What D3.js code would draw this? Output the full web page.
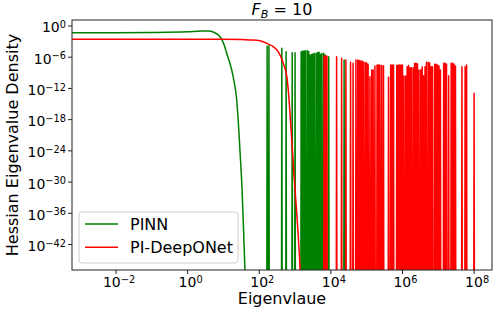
<!DOCTYPE html>
<html lang="en">
<head>
<meta charset="utf-8">
<title>Hessian eigenvalue density, F_B = 10</title>
<script src="https://d3js.org/d3.v7.min.js"></script>
<style>
    body { margin: 0; background: #fff; }
    text { font-family: "DejaVu Sans", sans-serif; fill: #000; }
</style>
</head>
<body>
<div id="vis"></div>
<script>
    // Tick exponents (log10)
    var x_tick_exps = [-2, 0, 2, 4, 6, 8];
    var y_tick_exps = [0, -6, -12, -18, -24, -30, -36, -42];

    // Series names and colours
    var series_names = ["PINN", "PI-DeepONet"];
    var series_colours = ["green", "red"];

    // Smooth part of each density curve: [log10 eigenvalue, log10 density]
    var pinn_curve = [
        [-3.3, -1.30], [-2.0, -1.29], [-1.0, -1.24], [0.0, -1.10], [0.4, -0.98], [0.6, -0.97],
        [0.7, -1.10], [0.77, -1.35], [0.86, -1.73], [0.95, -2.56], [1.02, -3.65], [1.09, -5.25],
        [1.16, -6.73], [1.23, -8.46], [1.28, -10.06], [1.37, -14.23], [1.42, -19.04], [1.46, -23.85],
        [1.52, -31.54], [1.56, -38.85], [1.60, -46.92], [1.64, -55]
    ];
    var deeponet_curve = [
        [-3.3, -2.56], [1.0, -2.57], [1.5, -2.60], [1.74, -2.68], [2.02, -2.83], [2.21, -3.33],
        [2.39, -3.98], [2.53, -4.94], [2.67, -7.17], [2.77, -9.75], [2.81, -12.31], [2.89, -20.0],
        [2.97, -28.65], [3.06, -37.31], [3.14, -46.92], [3.18, -55]
    ];

    // Narrow peaks of each density: [log10 eigenvalue, log10 peak density]
    var pinn_spikes = [
        [2.22, -3.9], [2.27, -3.65], [2.63, -4.29], [2.75, -4.94], [2.92, -5.13], [3.00, -5.13],
        [3.17, -4.94], [3.21, -4.87], [3.25, -4.81], [3.29, -4.77], [3.34, -4.75], [3.38, -4.90],
        [3.42, -5.58], [3.46, -5.48], [3.50, -5.38], [3.54, -5.29], [3.59, -5.25], [3.63, -5.10],
        [3.67, -5.06], [3.71, -5.44], [3.75, -5.29], [3.80, -5.25], [3.84, -5.58],
        [3.94, -5.90], [4.37, -6.54]
    ];
    var deeponet_spikes = [
        [3.81, -5.77], [3.85, -5.77], [3.89, -5.77], [4.16, -5.90], [4.30, -6.21], [4.42, -6.54],
        [4.55, -6.98], [4.62, -7.17],
        [4.70, -6.54], [4.75, -6.54], [4.79, -6.63], [4.83, -6.73], [4.87, -6.73], [4.91, -6.92],
        [4.96, -7.02], [5.00, -7.12], [5.04, -7.37], [5.09, -9.75], [5.14, -8.46], [5.18, -8.46],
        [5.23, -7.69], [5.29, -7.50], [5.33, -7.50], [5.37, -7.50], [5.42, -7.60], [5.47, -7.63],
        [5.61, -9.87], [5.67, -7.50], [5.71, -7.50], [5.75, -7.50],
        [5.84, -7.60], [5.88, -7.50], [5.92, -7.50], [5.96, -7.50], [6.00, -7.50], [6.04, -9.62],
        [6.09, -9.62], [6.13, -7.83], [6.17, -7.60], [6.21, -8.02], [6.25, -8.02], [6.30, -8.02],
        [6.34, -7.17], [6.38, -7.17], [6.42, -7.31], [6.46, -8.46], [6.51, -8.46], [6.55, -7.83],
        [6.59, -9.56], [6.63, -7.83], [6.67, -6.98], [6.72, -6.98], [6.76, -7.12], [6.80, -7.83],
        [6.84, -7.83], [6.90, -7.37], [6.94, -7.37], [6.98, -7.50], [7.02, -7.69], [7.06, -8.46],
        [7.15, -7.17], [7.19, -7.17], [7.23, -7.31], [7.29, -9.56], [7.36, -7.17], [7.40, -7.17],
        [7.44, -7.31], [7.48, -7.69], [7.66, -7.83], [7.75, -7.83], [7.79, -7.50], [8.00, -12.94]
    ];

    // Setup
    var width = 498, height = 313;
    var plot = { left: 72, top: 20, right: 492, bottom: 270 };
    var spike_half_width = 0.01;   // decades
    var floor_exp = -60;

    var svg = d3.select("#vis").append("svg")
        .attr("width", width)
        .attr("height", height);

    var x = d3.scaleLog()
        .domain([Math.pow(10, -3.23), Math.pow(10, 8.5)])
        .range([plot.left, plot.right]);
    var y = d3.scaleLog()
        .domain([Math.pow(10, 1.15), Math.pow(10, -46.9)])
        .range([plot.top, plot.bottom]);

    function px(e) { return x(Math.pow(10, e)); }
    function py(e) { return y(Math.pow(10, e)); }

    svg.append("clipPath").attr("id", "clip")
        .append("rect")
        .attr("x", plot.left).attr("y", plot.top)
        .attr("width", plot.right - plot.left).attr("height", plot.bottom - plot.top);

    var smooth_line = d3.line()
        .x(function(d) { return px(d[0]); })
        .y(function(d) { return py(d[1]); })
        .curve(d3.curveMonotoneX);
    var straight_line = d3.line()
        .x(function(d) { return px(d[0]); })
        .y(function(d) { return py(d[1]); });

    // Turn each peak into an up-and-down trace that drops to the floor
    function spike_points(spikes) {
        var pts = [];
        spikes.forEach(function(s) {
            pts.push([s[0] - spike_half_width, floor_exp]);
            pts.push([s[0], s[1]]);
            pts.push([s[0] + spike_half_width, floor_exp]);
        });
        return pts;
    }

    var curves = [pinn_curve, deeponet_curve];
    var spikes = [pinn_spikes, deeponet_spikes];
    var g = svg.append("g").attr("clip-path", "url(#clip)");
    for (var s = 0; s < 2; s++) {
        g.append("path")
            .attr("d", smooth_line(curves[s]))
            .attr("fill", "none")
            .attr("stroke", series_colours[s])
            .attr("stroke-width", 1.5)
            .attr("stroke-linejoin", "round");
        g.append("path")
            .attr("d", straight_line(spike_points(spikes[s])))
            .attr("fill", "none")
            .attr("stroke", series_colours[s])
            .attr("stroke-width", 1.5)
            .attr("stroke-linejoin", "round");
    }

    // Frame
    svg.append("rect")
        .attr("x", plot.left).attr("y", plot.top)
        .attr("width", plot.right - plot.left).attr("height", plot.bottom - plot.top)
        .attr("fill", "none").attr("stroke", "#222").attr("stroke-width", 1);

    function pow_label(sel, exp) {
        sel.append("tspan").text("10");
        sel.append("tspan")
            .attr("dy", "-0.45em")
            .attr("font-size", "0.7em")
            .text(exp < 0 ? "\u2212" + (-exp) : exp);
    }

    // X ticks
    x_tick_exps.forEach(function(e) {
        var xx = px(e);
        svg.append("line")
            .attr("x1", xx).attr("x2", xx)
            .attr("y1", plot.bottom).attr("y2", plot.bottom + 4)
            .attr("stroke", "#222").attr("stroke-width", 1);
        var t = svg.append("text")
            .attr("x", xx + 3).attr("y", plot.bottom + 17)
            .attr("text-anchor", "middle")
            .attr("font-size", 14);
        pow_label(t, e);
    });

    // Y ticks
    y_tick_exps.forEach(function(e) {
        var yy = py(e);
        svg.append("line")
            .attr("x1", plot.left - 4).attr("x2", plot.left)
            .attr("y1", yy).attr("y2", yy)
            .attr("stroke", "#222").attr("stroke-width", 1);
        var t = svg.append("text")
            .attr("x", plot.left - 6).attr("y", yy + 6.5)
            .attr("text-anchor", "end")
            .attr("font-size", 14);
        pow_label(t, e);
    });

    // Axis labels
    svg.append("text")
        .attr("x", (plot.left + plot.right) / 2).attr("y", 304)
        .attr("text-anchor", "middle")
        .attr("font-size", 16)
        .text("Eigenvlaue");
    svg.append("text")
        .attr("transform", "translate(18," + (plot.top + plot.bottom) / 2 + ") rotate(-90)")
        .attr("text-anchor", "middle")
        .attr("font-size", 16)
        .text("Hessian Eigenvalue Density");

    // Title
    var title = svg.append("text")
        .attr("x", (plot.left + plot.right) / 2).attr("y", 15)
        .attr("text-anchor", "middle")
        .attr("font-size", 16);
    title.append("tspan").attr("font-style", "italic").text("F");
    title.append("tspan").attr("font-style", "italic").attr("font-size", "0.7em").attr("dy", "0.3em").text("B");
    title.append("tspan").attr("dy", "-0.2em").text(" = 10");

    // Legend
    var legend = svg.append("g");
    legend.append("rect")
        .attr("x", 79).attr("y", 212)
        .attr("width", 159).attr("height", 51)
        .attr("rx", 3)
        .attr("fill", "#fff").attr("fill-opacity", 0.8)
        .attr("stroke", "#ccc").attr("stroke-width", 1);
    series_names.forEach(function(name, i) {
        var ly = 224 + i * 23.3;
        legend.append("line")
            .attr("x1", 85).attr("x2", 118)
            .attr("y1", ly).attr("y2", ly)
            .attr("stroke", series_colours[i]).attr("stroke-width", 1.5);
        legend.append("text")
            .attr("x", 130).attr("y", ly + 5.5)
            .attr("font-size", 16)
            .text(name);
    });
</script>
</body>
</html>
